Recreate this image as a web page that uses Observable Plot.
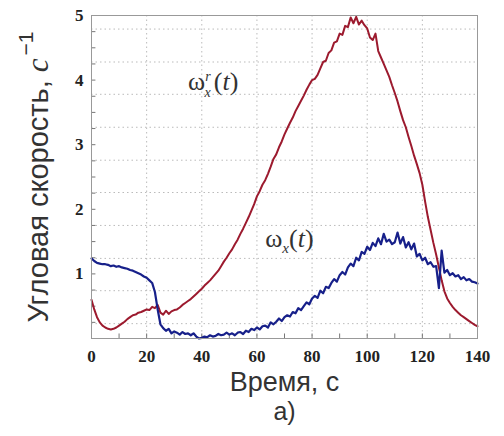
<!DOCTYPE html>
<html><head><meta charset="utf-8">
<script src="https://cdn.jsdelivr.net/npm/d3@7"></script>
<script src="https://cdn.jsdelivr.net/npm/@observablehq/plot@0.6"></script>
<style>
body{margin:0;background:#fff}
g[aria-label="x-axis tick label"] text, g[aria-label="y-axis tick label"] text,
g[aria-label="x-axis tick label"], g[aria-label="y-axis tick label"] {
  font-family: "Liberation Serif", serif !important; font-weight: bold !important; font-size: 17px !important;
}
</style>
</head><body><div id="chart"></div>
<script>
// time (s)
const timeS = d3.range(0, 141, 1);
// ω_x^r(t) red series, one value per second
const omegaR = [0.60,0.45,0.33,0.25,0.20,0.17,0.15,0.14,0.15,0.17,
0.20,0.23,0.26,0.30,0.33,0.36,0.37,0.40,0.41,0.43,
0.45,0.44,0.49,0.47,0.52,0.40,0.37,0.43,0.38,0.42,
0.44,0.45,0.48,0.52,0.55,0.58,0.61,0.65,0.69,0.73,
0.77,0.82,0.86,0.90,0.95,1.00,1.05,1.12,1.19,1.25,
1.32,1.38,1.46,1.53,1.62,1.70,1.79,1.88,1.98,2.08,
2.20,2.28,2.38,2.45,2.55,2.66,2.78,2.85,2.96,3.05,
3.16,3.25,3.34,3.42,3.52,3.60,3.68,3.76,3.85,3.93,
4.00,4.02,4.08,4.18,4.28,4.30,4.42,4.46,4.58,4.60,
4.72,4.70,4.84,4.82,4.97,4.88,4.98,4.86,4.92,4.85,
4.80,4.66,4.62,4.72,4.45,4.35,4.25,4.15,4.05,3.92,
3.80,3.67,3.52,3.38,3.27,3.12,2.98,2.83,2.70,2.56,
2.38,2.12,1.88,1.68,1.48,1.30,1.10,0.90,0.73,0.62,
0.55,0.49,0.44,0.40,0.36,0.33,0.30,0.27,0.24,0.21,0.19];
// ω_x(t) blue series, one value per second
const omegaX = [1.24,1.20,1.17,1.16,1.15,1.15,1.14,1.12,1.13,1.11,
1.12,1.10,1.09,1.08,1.06,1.05,1.03,1.01,0.99,0.96,
0.94,0.90,0.86,0.72,0.45,0.22,0.16,0.12,0.15,0.08,
0.11,0.09,0.06,0.10,0.07,0.08,0.05,0.08,0.03,0.00,
0.01,0.03,0.02,0.05,0.03,0.04,0.07,0.05,0.06,0.09,
0.06,0.08,0.05,0.09,0.10,0.07,0.12,0.10,0.15,0.13,
0.17,0.14,0.19,0.20,0.17,0.25,0.22,0.26,0.31,0.27,
0.33,0.36,0.34,0.41,0.39,0.47,0.44,0.50,0.56,0.53,
0.62,0.66,0.63,0.74,0.70,0.80,0.78,0.86,0.92,0.88,
0.98,1.03,0.99,1.10,1.16,1.12,1.25,1.21,1.34,1.31,
1.42,1.37,1.48,1.43,1.55,1.46,1.62,1.50,1.53,1.46,
1.49,1.64,1.47,1.57,1.41,1.49,1.38,1.47,1.27,1.31,
1.21,1.25,1.15,1.18,1.11,1.12,0.78,1.36,1.02,1.06,
0.98,1.01,0.96,0.98,0.92,0.95,0.90,0.92,0.88,0.87,0.85];
const xTicks = [0,20,40,60,80,100,120,140];
const yTicks = [1,2,3,4,5];
const xMinor = d3.range(0, 141, 10);
const yMinor = d3.range(0, 5.01, 0.25);
const xGrid = [20,40,60,80,100,120];
const yGrid = [0.23,0.74,1.24,1.75,2.26,2.76,3.27,3.78,4.28,4.79];
const xTitle = ["Время, с"];
const yTitle = ["Угловая скорость, с⁻¹"];
const panelLabel = ["а)"];
const labelR = [{t: 35, v: 3.98, s: "ωx^r(t)"}];
const labelX = [{t: 63, v: 1.55, s: "ωx(t)"}];

const redData = timeS.map((t, i) => ({t, v: omegaR[i]}));
const blueData = timeS.map((t, i) => ({t, v: omegaX[i]}));

const chart = Plot.plot({
  width: 504, height: 436,
  marginLeft: 91, marginRight: 27, marginTop: 15, marginBottom: 98,
  x: {domain: [0, 140]},
  y: {domain: [0, 5]},
  marks: [
    Plot.ruleX(xGrid, {stroke: "#bbb", strokeDasharray: "1.5,3"}),
    Plot.ruleY(yGrid, {stroke: "#bbb", strokeDasharray: "1.5,3"}),
    Plot.ruleX(xMinor, {y1: 0, y2: 0.07, stroke: "#777"}),
    Plot.ruleY(yMinor, {x1: 0, x2: 1.6, stroke: "#777"}),
    Plot.line(redData, {x: "t", y: "v", stroke: "#9c1a2e", strokeWidth: 2}),
    Plot.line(blueData, {x: "t", y: "v", stroke: "#17208a", strokeWidth: 2.2}),
    Plot.frame({stroke: "#999"}),
    Plot.axisX(xTicks, {tickSize: 0, tickPadding: 11, tickFormat: d => String(d), fill: "#222", label: null}),
    Plot.axisY(yTicks, {tickSize: 0, tickPadding: 8, tickFormat: d => String(d), fill: "#222", label: null}),
    Plot.text(xTitle, {text: d => d, frameAnchor: "bottom", dy: 52, fontSize: 27, fontFamily: "Liberation Sans", fill: "#333"}),
    Plot.text(panelLabel, {text: d => d, frameAnchor: "bottom", dy: 81, fontSize: 25, fontFamily: "Liberation Sans", fill: "#333"}),
    Plot.text(yTitle, {text: d => d, frameAnchor: "left", textAnchor: "middle", dx: -53, dy: 0, rotate: -90, fontSize: 29, fontFamily: "Liberation Sans", fill: "#333", className: "ytitle"}),
    Plot.text(labelR, {x: "t", y: "v", text: "s", textAnchor: "start", fontSize: 26, fontFamily: "Liberation Serif", fill: "#333", className: "lblr"}),
    Plot.text(labelX, {x: "t", y: "v", text: "s", textAnchor: "start", fontSize: 26, fontFamily: "Liberation Serif", fill: "#333", className: "lblx"})
  ]
});
document.getElementById("chart").appendChild(chart);

const svg = d3.select(chart);
// rich text for y title
svg.selectAll("g.ytitle text").each(function() {
  const t = d3.select(this);
  t.text(null);
  t.append("tspan").text("Угловая скорость, ");
  t.append("tspan").attr("font-family", "Liberation Serif").attr("font-style", "italic").attr("font-size", 31).text("с");
  t.append("tspan").attr("font-family", "Liberation Sans").attr("font-size", 21).attr("dy", "-0.7em").attr("dx", "3").text("−1");
});
svg.selectAll("g.lblr text").each(function() {
  const t = d3.select(this);
  t.text(null);
  t.append("tspan").text("ω");
  t.append("tspan").attr("font-size", 14).attr("font-style", "italic").attr("dy", "-9").text("r");
  t.append("tspan").attr("font-size", 14).attr("font-style", "italic").attr("dx", "-6").attr("dy", "16").text("x");
  t.append("tspan").attr("dx", "3").attr("dy", "-7").text("(");
  t.append("tspan").attr("font-style", "italic").text("t");
  t.append("tspan").text(")");
});
svg.selectAll("g.lblx text").each(function() {
  const t = d3.select(this);
  t.text(null);
  t.append("tspan").text("ω");
  t.append("tspan").attr("font-size", 15).attr("font-style", "italic").attr("dy", "6").text("x");
  t.append("tspan").attr("dy", "-6").text("(");
  t.append("tspan").attr("font-style", "italic").text("t");
  t.append("tspan").text(")");
});
</script>
</body></html>
